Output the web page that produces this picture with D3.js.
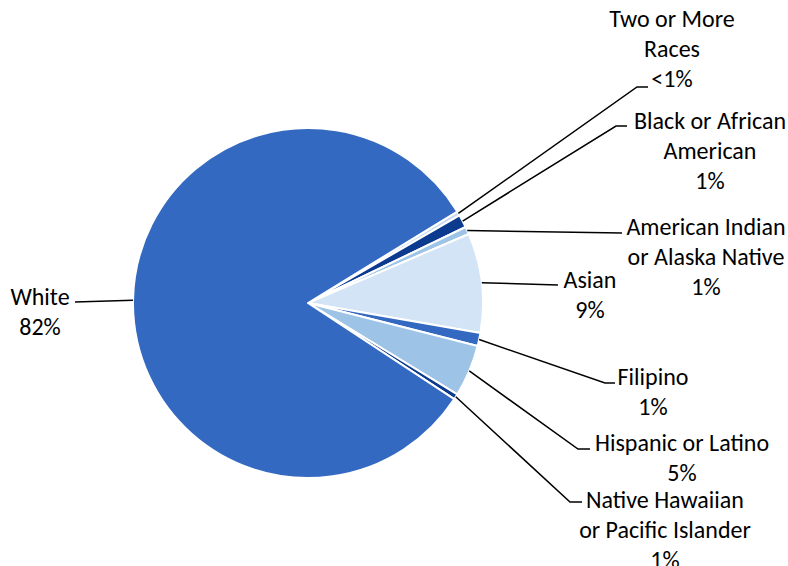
<!DOCTYPE html>
<html>
<head>
<meta charset="utf-8">
<script src="https://cdn.jsdelivr.net/npm/d3@7"></script>
<style>
  body { margin: 0; background: #fff; }
  text { font-family: Carlito, "Open Sans", Lato, sans-serif; font-size: 24px; fill: #000; }
</style>
</head>
<body>
<div id="chart"></div>
<script>
// Data
const categories = ["Two or More Races", "Black or African American", "American Indian or Alaska Native",
  "Asian", "Filipino", "Hispanic or Latino", "Native Hawaiian or Pacific Islander", "White"];
const values = [0.4, 1.2, 0.7, 9.2, 1.2, 4.8, 0.5, 82.0];
const valueLabels = ["<1%", "1%", "1%", "9%", "1%", "5%", "1%", "82%"];
const labelLines = [
  ["Two or More", "Races"],
  ["Black or African", "American"],
  ["American Indian", "or Alaska Native"],
  ["Asian"],
  ["Filipino"],
  ["Hispanic or Latino"],
  ["Native Hawaiian", "or Pacific Islander"],
  ["White"]
];
const colors = ["#c5daf0", "#0c3a8f", "#9dc3e6", "#d2e4f5", "#3469c1", "#9dc3e6", "#0c3a8f", "#3469c1"];

// Label layout (text centre x, first line y, leader elbow, leader end)
const labelLayout = [
  { x: 672, y: 18, elbow: [637, 87], end: [648, 87] },
  { x: 710, y: 120, elbow: [616, 126], end: [627, 126] },
  { x: 706, y: 226, elbow: null, end: [622, 233] },
  { x: 590, y: 279, elbow: null, end: [558, 285] },
  { x: 653, y: 376, elbow: [605, 383], end: [615, 383] },
  { x: 682, y: 442, elbow: [578, 449], end: [590, 449] },
  { x: 665, y: 499, elbow: [570, 502], end: [582, 502] },
  { x: 40, y: 296, elbow: null, end: [75, 302] }
];

const width = 788;
const height = 566;
const cx = 308, cy = 303, radius = 175;
const lineHeight = 30;

const svg = d3.select("#chart").append("svg")
  .attr("width", width)
  .attr("height", height);

const g = svg.append("g").attr("transform", `translate(${cx},${cy})`);

const startDeg = 58.5;
const pie = d3.pie()
  .sort(null)
  .value(d => d)
  .startAngle(startDeg * Math.PI / 180)
  .endAngle((startDeg + 360) * Math.PI / 180);

const arcs = pie(values);
const arc = d3.arc().innerRadius(0).outerRadius(radius);

g.selectAll("path.slice")
  .data(arcs)
  .join("path")
  .attr("class", "slice")
  .attr("d", arc)
  .attr("fill", (d, i) => colors[i])
  .attr("stroke", "#fff")
  .attr("stroke-width", 2)
  .attr("stroke-linejoin", "round");

// Leader lines
const lines = svg.append("g");
arcs.forEach((d, i) => {
  const mid = (d.startAngle + d.endAngle) / 2;
  const ax = cx + Math.sin(mid) * radius;
  const ay = cy - Math.cos(mid) * radius;
  const L = labelLayout[i];
  const pts = [[ax, ay]];
  if (L.elbow) pts.push(L.elbow);
  pts.push(L.end);
  lines.append("path")
    .attr("d", d3.line()(pts))
    .attr("fill", "none")
    .attr("stroke", "#000")
    .attr("stroke-width", 1.5);
});

// Labels
const labels = svg.append("g");
categories.forEach((c, i) => {
  const L = labelLayout[i];
  const rows = labelLines[i].concat([valueLabels[i]]);
  rows.forEach((t, k) => {
    labels.append("text")
      .attr("x", L.x)
      .attr("y", L.y + k * lineHeight)
      .attr("text-anchor", "middle")
      .attr("dominant-baseline", "central")
      .text(t);
  });
});
</script>
</body>
</html>
